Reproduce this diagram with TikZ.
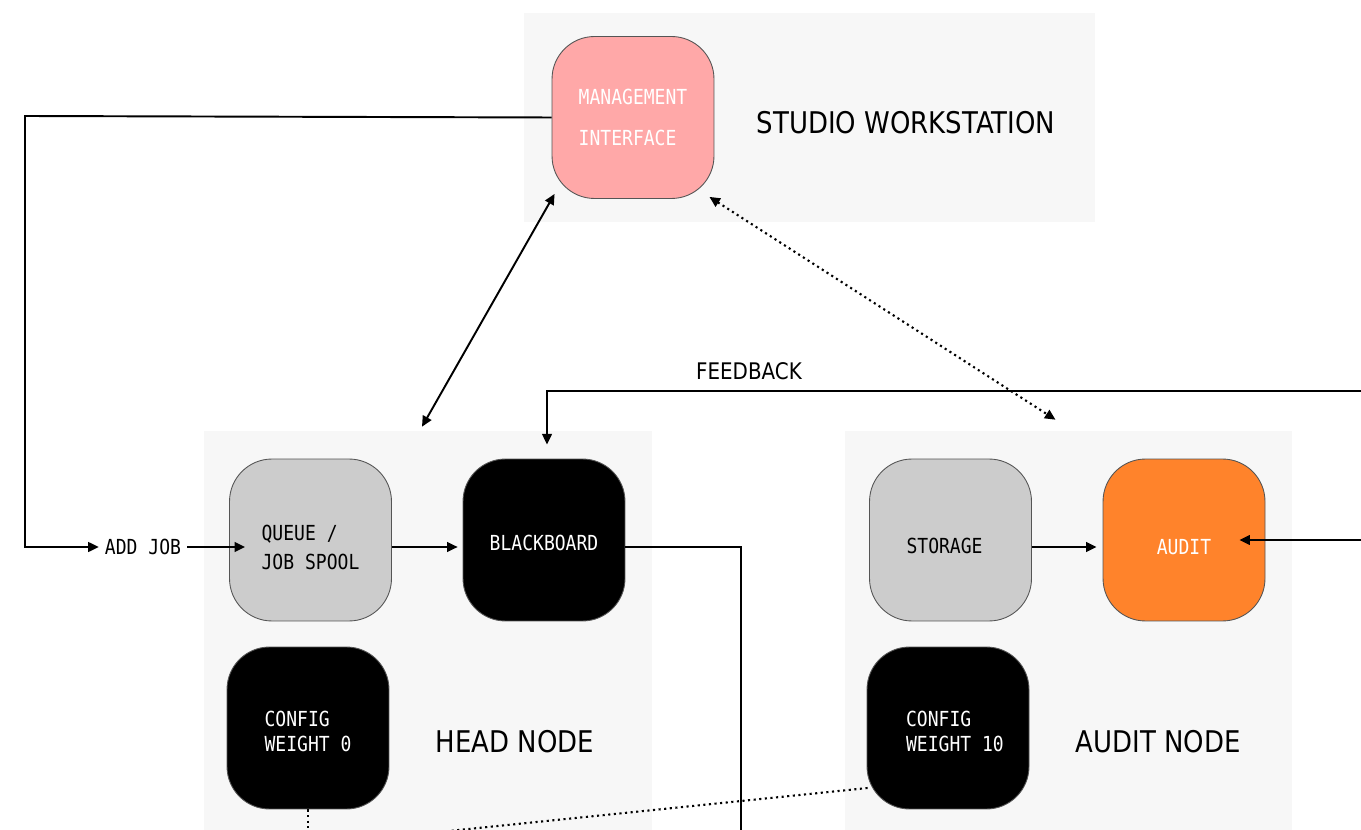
\documentclass[tikz,border=0pt]{standalone}
\usepackage{fontspec}
\newfontfamily\labelfont{DejaVu Sans}[FakeStretch=0.87]
\setmonofont{DejaVu Sans Mono}[FakeStretch=0.87]
\usetikzlibrary{arrows.meta,calc}
\definecolor{panelgray}{HTML}{F7F7F7}
\definecolor{mgmtpink}{HTML}{FFA8A8}
\definecolor{auditorange}{HTML}{FF832B}
\definecolor{spoolgray}{HTML}{CCCCCC}
\definecolor{boxline}{HTML}{555555}
\newcommand{\lowered}[1]{\rule{0pt}{#1}}
\begin{document}
\begin{tikzpicture}[x=0.02cm,y=-0.02cm,
        >={Triangle[length=6pt,width=5.5pt]},
        panel/.style={fill=panelgray,inner sep=0pt,minimum height=#1},
        box/.style={draw=boxline,line width=0.5pt,rounded corners=0.85cm,
            minimum width=3.24cm,minimum height=3.24cm,inner sep=0pt,align=left,
            font=\ttfamily\fontsize{11.8}{14}\selectfont},
        title/.style={font=\labelfont\fontsize{17}{20}\selectfont},
        conn/.style={line width=1.1pt},
        dotconn/.style={line width=1.2pt,dotted}]
    \useasboundingbox (0,0) rectangle (1361,830);
    \clip (0,0) rectangle (1361,830);
    % group panels
    \node[panel=4.18cm,minimum width=11.42cm] (studio) at (809.5,117.5) {};
    \node[panel=8.38cm,minimum width=8.96cm] (headpanel) at (428,640.5) {};
    \node[panel=8.38cm,minimum width=8.94cm] (auditpanel) at (1068.5,640.5) {};
    \node[title] at (906,123) {STUDIO WORKSTATION};
    \node[title] at (515,742) {HEAD NODE};
    \node[title] at (1158,742) {AUDIT NODE};
    % boxes
    \node[box,fill=mgmtpink,text=white] (mgmt) at (633,117.5) {MANAGEMENT\\[9pt]INTERFACE};
    \node[box,fill=spoolgray] (queue) at (310.5,540) {\lowered{17pt}QUEUE /\\[2.4pt]JOB SPOOL};
    \node[box,fill=black,text=white] (bb) at (544,540) {\lowered{12pt}BLACKBOARD};
    \node[box,fill=black,text=white] (cfgzero) at (308,728) {\lowered{12.6pt}CONFIG\\WEIGHT 0\hspace{3.4pt}};
    \node[box,fill=spoolgray] (storage) at (950.5,540) {\lowered{15.4pt}STORAGE\hspace{6.8pt}};
    \node[box,fill=auditorange,text=white] (audit) at (1184,540) {\lowered{16.6pt}AUDIT};
    \node[box,fill=black,text=white] (cfgten) at (948,728) {\lowered{12.6pt}\hspace{7.9pt}CONFIG\\\hspace{7.9pt}WEIGHT 10};
    \node[font=\ttfamily\fontsize{11.8}{14}\selectfont] (addjob) at (143,547) {ADD JOB};
    \node[font=\labelfont\fontsize{13}{15}\selectfont] (fblabel) at (749,371) {FEEDBACK};
    % free ends
    \coordinate (bbout) at (741,845);
    \coordinate (fbin) at (1380,391);
    \coordinate (auin) at (1380,540);
    \coordinate (cfgzeroout) at (308,845);
    \coordinate (cfgtenout) at (410,835);
    % connectors
    \draw[conn,->] (mgmt.west) -- (25,116) |- (addjob.west);
    \draw[conn,->] (addjob.east) -- ($(queue.west)+(16,7)$);
    \draw[conn,->,shorten >=2.8pt] ($(queue.east)+(0,7)$) -- ($(bb.west)+(0,7)$);
    \draw[conn] ($(bb.east)+(0,7)$) -| (bbout);
    \draw[conn,->,shorten >=8pt] (fbin) -| ($(bb.north)+(3,0)$);
    \draw[conn,->] (auin) -- ($(audit.east)+(-26,0)$);
    \draw[conn,->,shorten >=3.4pt] ($(storage.east)+(0,7)$) -- ($(audit.west)+(0,7)$);
    \draw[conn,<->] ($(headpanel.north)+(-6,-4)$) -- ($(mgmt.south west)+(3,-5)$);
    \draw[dotconn,<->] ($(mgmt.south east)+(-5,-2)$) -- ($(auditpanel.north)+(-13,-11)$);
    \draw[dotconn] (cfgzero.south) -- (cfgzeroout);
    \draw[dotconn] ($(cfgten.west)+(1,60)$) -- (cfgtenout);
\end{tikzpicture}
\end{document}
